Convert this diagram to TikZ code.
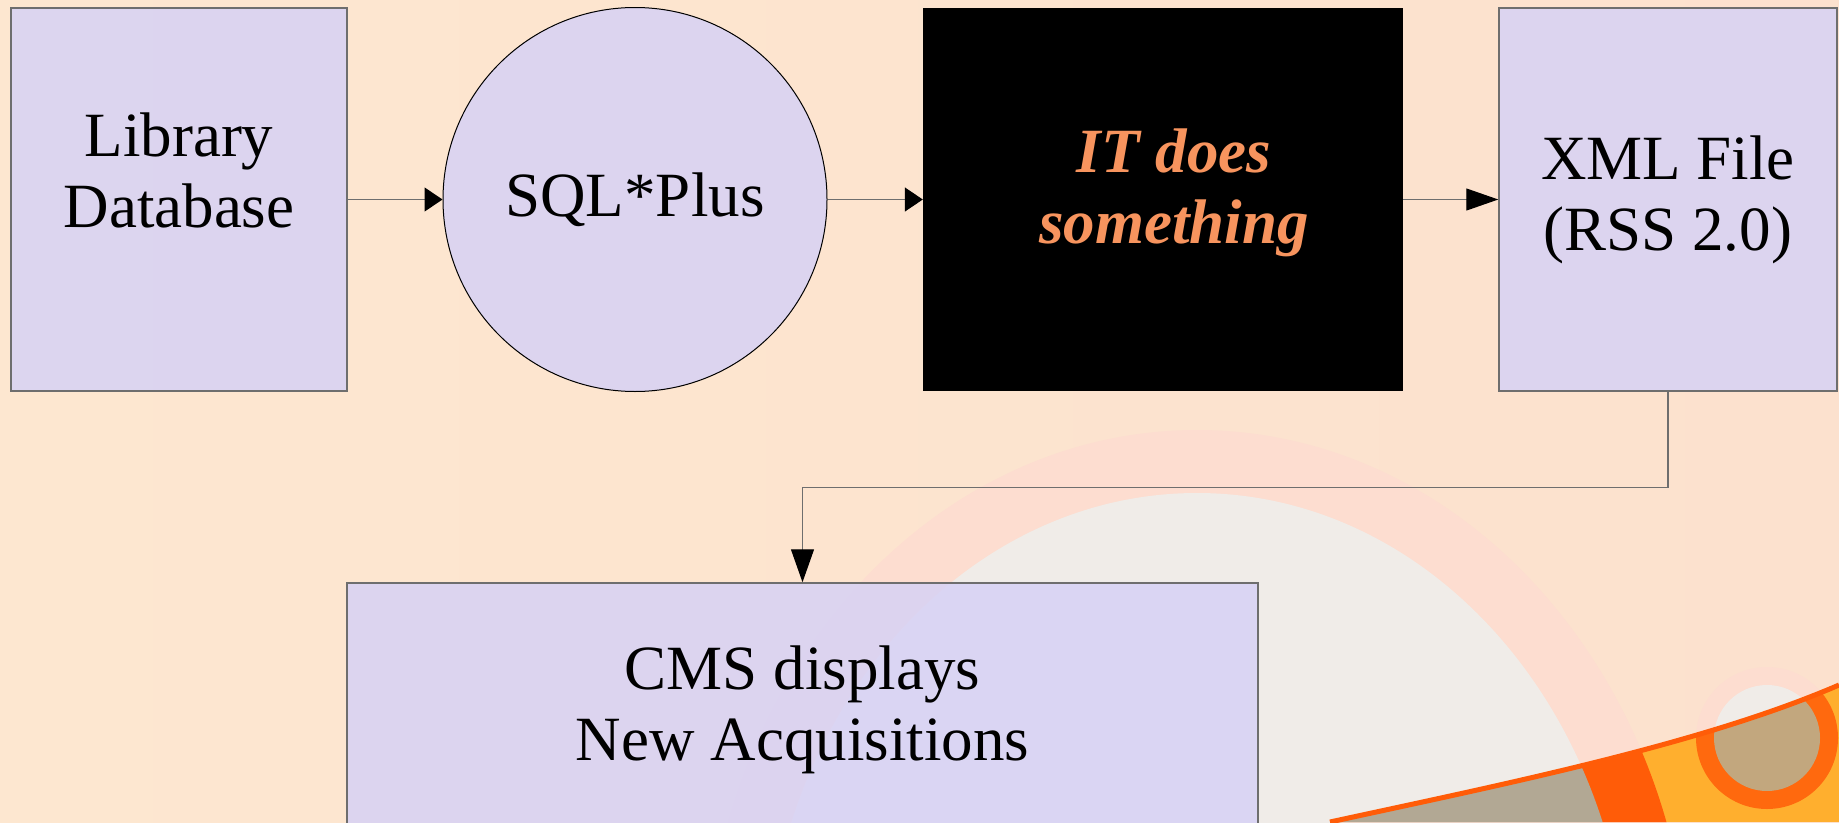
\documentclass[tikz,border=0pt]{standalone}
\usepackage{fontspec}
\setmainfont{Liberation Serif}
\usetikzlibrary{arrows.meta}
\definecolor{peach}{RGB}{253,231,208}
\definecolor{peachright}{RGB}{252,225,206}
\definecolor{ringpink}{RGB}{253,221,208}
\definecolor{ringgrey}{RGB}{240,236,232}
\definecolor{swooshorange}{RGB}{255,92,8}
\definecolor{swooshyellow}{RGB}{255,175,46}
\definecolor{swooshgrey}{RGB}{178,168,148}
\definecolor{swooshtan}{RGB}{194,167,126}
\definecolor{boxlilac}{RGB}{215,210,245}
\definecolor{boxline}{RGB}{110,110,110}
\definecolor{itorange}{RGB}{247,148,94}
\tikzset{
  flowbox/.style={draw=boxline, line width=1.5pt, fill=boxlilac, fill opacity=0.85, text opacity=1,
    align=center, inner sep=0pt, font=\fontsize{63}{71}\selectfont},
  flowtext/.style={align=center, inner sep=0pt, font=\fontsize{63}{71}\selectfont},
  flowline/.style={draw=boxline, line width=1.2pt},
}
\begin{document}
\begin{tikzpicture}[x=1pt,y=-1pt]
	% background of the slide
	\useasboundingbox (0,0) rectangle (1839,822);
	\shade[left color=peach, right color=peachright] (0,0) rectangle (1839,822);
	\fill[ringpink] (1197,1000) ellipse [x radius=494, y radius=570];
	\fill[ringgrey] (1197,1000) ellipse [x radius=433, y radius=507];
	\fill[ringpink] (1767,738) circle [radius=71];
	\fill[ringgrey] (1767,738) circle [radius=53];
	\begin{scope}
		\clip (1330,822) .. controls (1500,785) and (1700,745) .. (1839,685) -- (1839,822) -- cycle;
		\fill[swooshyellow] (1300,660) rectangle (1839,822);
		\fill[swooshorange] (1197,1000) ellipse [x radius=494, y radius=570];
		\fill[swooshgrey] (1197,1000) ellipse [x radius=433, y radius=507];
		\fill[swooshorange!85!swooshyellow] (1767,738) circle [radius=71];
		\fill[swooshtan] (1767,738) circle [radius=53];
	\end{scope}
	\draw[swooshorange, line width=5pt] (1330,822) .. controls (1500,785) and (1700,745) .. (1839,685);
	
	% the flow
	\node[flowbox, minimum width=336pt, minimum height=383pt] (libdb) at (179,199.5) {};
	\node[flowtext] (libdbtext) at ([yshift=29pt]libdb.center) {Library\\Database};
	
	\node[flowbox, circle, draw=black, line width=1pt, minimum size=384pt] (sqlplus) at (635,199.5) {SQL*Plus};
	
	\node[fill=black, inner sep=0pt, minimum width=480pt, minimum height=383pt] (itbox) at (1163,199.5) {};
	\node[flowtext, text=itorange, font=\fontsize{63}{71}\selectfont\bfseries\itshape] (itboxtext)
		at ([xshift=11pt,yshift=7pt]itbox.center) {IT does\\something};
	
	\node[flowbox, minimum width=338pt, minimum height=383pt] (xmlfile) at (1668,199.5) {XML File\\(RSS 2.0)};
	
	\node[flowbox, minimum width=911pt, minimum height=254pt] (cms) at (802.5,710) {CMS displays\\New Acquisitions};
	
	\draw[flowline, -{Triangle[length=18pt, width=24pt, color=black, fill=black]}] (libdb) -- (sqlplus);
	\draw[flowline, -{Triangle[length=18pt, width=24pt, color=black, fill=black]}] (sqlplus) -- (itbox);
	\draw[flowline, -{Triangle[length=32pt, width=22pt, color=black, fill=black]}] (itbox) -- (xmlfile);
	\draw[flowline, -{Triangle[length=33pt, width=23pt, color=black, fill=black]}] (xmlfile.south) -- ++(0,96) -| (cms.north);
\end{tikzpicture}
\end{document}
